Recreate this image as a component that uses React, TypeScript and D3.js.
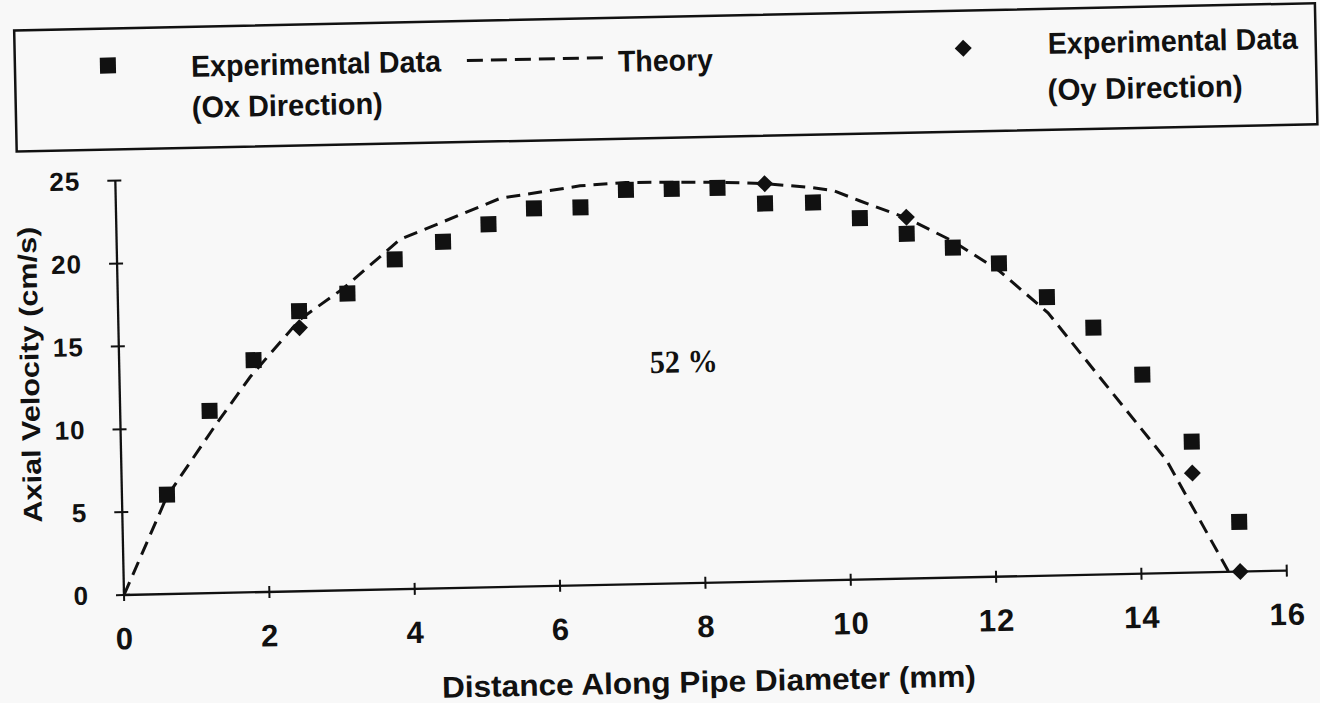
import React from 'react';
import * as d3 from 'd3';

// ---- data ----
const xTicks = [0, 2, 4, 6, 8, 10, 12, 14, 16];
const yTicks = [0, 5, 10, 15, 20, 25];

// Experimental data, Ox direction (squares)
const oxX = [0.62, 1.23, 1.85, 2.49, 3.16, 3.82, 4.49, 5.12, 5.75, 6.39, 7.02, 7.65, 8.28, 8.93, 9.59, 10.23, 10.87, 11.5, 12.13, 12.78, 13.41, 14.07, 14.73, 15.36];
const oxY = [6.0, 11.0, 14.0, 16.9, 17.9, 19.9, 20.9, 21.9, 22.8, 22.8, 23.8, 23.8, 23.8, 22.8, 22.8, 21.8, 20.8, 19.9, 18.9, 16.8, 14.9, 12.0, 7.9, 3.0];

// Experimental data, Oy direction (diamonds)
const oyX = [2.49, 8.93, 10.87, 14.73, 15.36];
const oyY = [15.9, 24.0, 21.8, 6.0, 0.0];

// Theory (dashed)
const theoryX = [0, 0.62, 1.32, 1.8, 2.5, 3.1, 3.9, 5.29, 6.39, 7.02, 7.65, 8.28, 8.93, 9.59, 9.87, 10.23, 10.87, 11.5, 12.13, 12.79, 14.38, 15.2];
const theoryY = [0, 5.9, 10.2, 13.0, 16.4, 18.2, 21.1, 23.45, 24.1, 24.25, 24.2, 24.15, 24.0, 23.7, 23.5, 22.85, 21.75, 20.3, 18.45, 15.85, 6.8, 0];

const legendLabels = ['Experimental Data', '(Ox Direction)', 'Theory', 'Experimental Data', '(Oy Direction)'];
const xTitle = 'Distance Along Pipe Diameter (mm)';
const yTitle = 'Axial Velocity  (cm/s)';
const annotation = '52 %';

export default function App() {
  const W = 1320;
  const H = 703;
  const x = d3.scaleLinear().domain([0, 16]).range([119, 1282]);
  const y = d3.scaleLinear().domain([0, 25]).range([583.7, 169.3]);
  const theoryLine = d3
    .line<number>()
    .x((_, i) => x(theoryX[i]))
    .y((d) => y(d))(theoryY) as string;

  const sans = "'Liberation Sans', Arial, Helvetica, sans-serif";
  const serif = "'Liberation Serif', 'Times New Roman', serif";
  const ink = '#111';
  const sq = 16;
  const dia = (r: number) => `M0,${-r}L${r},0L0,${r}L${-r},0Z`;

  return (
    <svg
      width={W}
      height={H}
      style={{ position: 'absolute', left: 0, top: 0, display: 'block' }}
      xmlns="http://www.w3.org/2000/svg"
    >
      <rect x={0} y={0} width={W} height={H} fill="#f8f8f8" />
      <g transform="rotate(-1.2, 660, 350)">
        {/* Legend box */}
        <rect x={21} y={17} width={1301} height={121} fill="none" stroke={ink} strokeWidth={2.5} />
        <rect x={114 - sq / 2} y={54 - sq / 2} width={sq} height={sq} fill={ink} />
        <text x={197} y={67} fontFamily={sans} fontWeight="bold" fontSize={30} fill={ink} textLength={250} lengthAdjust="spacingAndGlyphs">
          {legendLabels[0]}
        </text>
        <text x={197} y={108} fontFamily={sans} fontWeight="bold" fontSize={30} fill={ink} textLength={191} lengthAdjust="spacingAndGlyphs">
          {legendLabels[1]}
        </text>
        <line x1={473} y1={56.5} x2={610} y2={56.5} stroke={ink} strokeWidth={3} strokeDasharray="16 8" />
        <text x={624} y={71} fontFamily={sans} fontWeight="bold" fontSize={30} fill={ink} textLength={95} lengthAdjust="spacingAndGlyphs">
          {legendLabels[2]}
        </text>
        <path d={dia(8.5)} transform="translate(969.5,54.7)" fill={ink} />
        <text x={1054} y={62} fontFamily={sans} fontWeight="bold" fontSize={30} fill={ink} textLength={250} lengthAdjust="spacingAndGlyphs">
          {legendLabels[3]}
        </text>
        <text x={1053} y={108.5} fontFamily={sans} fontWeight="bold" fontSize={30} fill={ink} textLength={195} lengthAdjust="spacingAndGlyphs">
          {legendLabels[4]}
        </text>

        {/* Axes */}
        <line x1={x(0)} y1={y(0)} x2={x(16)} y2={y(0)} stroke={ink} strokeWidth={2.3} />
        <line x1={x(0)} y1={y(0)} x2={x(0)} y2={y(25)} stroke={ink} strokeWidth={2.3} />
        {xTicks.map((t) => (
          <g key={'xt' + t}>
            <line x1={x(t)} x2={x(t)} y1={y(0) - 6} y2={y(0) + 6} stroke={ink} strokeWidth={2} />
            <text x={x(t)} y={638} textAnchor="middle" fontFamily={sans} fontWeight="bold" fontSize={31} fill={ink} letterSpacing={1}>
              {t}
            </text>
          </g>
        ))}
        {yTicks.map((t) => (
          <g key={'yt' + t}>
            <line x1={x(0) - 8} x2={x(0) + 6} y1={y(t)} y2={y(t)} stroke={ink} strokeWidth={2} />
            <text x={84} y={y(t) + 9} textAnchor="end" fontFamily={sans} fontWeight="bold" fontSize={26} fill={ink} letterSpacing={1}>
              {t}
            </text>
          </g>
        ))}
        <text
          transform={`translate(38.5, ${(y(0) + y(25)) / 2 - 15}) rotate(-90)`}
          textAnchor="middle"
          fontFamily={sans}
          fontWeight="bold"
          fontSize={26}
          fill={ink}
          textLength={296}
          lengthAdjust="spacingAndGlyphs"
        >
          {yTitle}
        </text>
        <text x={702} y={693} textAnchor="middle" fontFamily={sans} fontWeight="bold" fontSize={30} fill={ink} textLength={534} lengthAdjust="spacingAndGlyphs">
          {xTitle}
        </text>

        {/* Theory */}
        <path d={theoryLine} fill="none" stroke={ink} strokeWidth={3} strokeDasharray="14 8" />

        {/* Oy diamonds */}
        {oyX.map((v, i) => (
          <path key={'oy' + i} d={dia(8.5)} transform={`translate(${x(v)},${y(oyY[i])})`} fill={ink} />
        ))}
        {/* Ox squares */}
        {oxX.map((v, i) => (
          <rect key={'ox' + i} x={x(v) - sq / 2} y={y(oxY[i]) - sq / 2} width={sq} height={sq} fill={ink} />
        ))}

        <text x={649.5} y={372.8} fontFamily={serif} fontWeight="bold" fontSize={32} fill={ink} textLength={68} lengthAdjust="spacingAndGlyphs">
          {annotation}
        </text>
      </g>
    </svg>
  );
}
